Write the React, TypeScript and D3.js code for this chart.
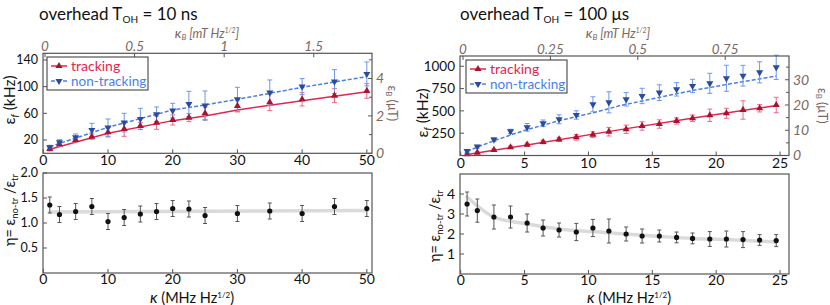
import React from 'react';
import * as d3 from 'd3';

// ---- left column: overhead 10 ns ----
const kappaL = [1, 2.5, 5, 7.5, 10, 12.5, 15, 17.5, 20, 22.5, 25, 30, 35, 40, 45, 50];
const trackL = [6.5, 13.5, 20, 25, 31.5, 36.5, 41, 46, 50, 53.5, 60, 71, 76.5, 81, 86.5, 93.5];
const trackErrL = [3, 3, 3, 4, 7, 11, 5, 10, 7.5, 6, 9.5, 9, 12.5, 10, 10.5, 11];
const nonTrackL = [9, 16.5, 24, 35, 38.5, 46, 51.5, 58.5, 64, 74, 71.5, 81, 91, 100, 107.5, 119];
const nonTrackErrL = [3, 4, 5, 10, 13, 14, 16, 11, 11, 19, 22, 18, 19, 12, 18, 18];
const fitXL = [1, 10, 20, 25, 30, 40, 50];
const trackFitL = [6, 30, 49, 56, 65, 79, 92.5];
const nonTrackFitL = [10, 39, 65, 72.5, 81, 99, 115];
const etaL = [1.36, 1.17, 1.23, 1.33, 1.03, 1.11, 1.18, 1.23, 1.29, 1.28, 1.15, 1.19, 1.24, 1.19, 1.33, 1.29];
const etaErrL = [0.16, 0.16, 0.16, 0.16, 0.16, 0.16, 0.16, 0.16, 0.16, 0.16, 0.16, 0.16, 0.16, 0.16, 0.16, 0.16];
const etaFitXL = [1, 50];
const etaFitL = [1.22, 1.25];

// ---- right column: overhead 100 us ----
const kappaR = [0.5, 1.3, 2.6, 3.9, 5.2, 6.45, 7.7, 9.05, 10.35, 11.6, 12.95, 14.2, 15.55, 16.9, 18.15, 19.5, 20.8, 22.1, 23.4, 24.7];
const trackR = [14, 31, 62, 92, 121, 151, 181, 204, 233, 267, 294, 331, 353, 387, 417, 451, 473, 510, 529, 566];
const trackErrR = [8, 10, 12, 15, 18, 20, 22, 32, 32, 48, 47, 47, 47, 35, 37, 69, 56, 103, 41, 86];
const nonTrackR = [50, 99, 178, 270, 316, 361, 406, 454, 574, 596, 630, 667, 704, 741, 779, 809, 865, 894, 932, 988];
const nonTrackErrR = [15, 15, 20, 24, 43, 37, 50, 47, 84, 118, 75, 86, 88, 75, 75, 112, 146, 116, 118, 136];
const trackFitXR = [0.5, 5.2, 12.5, 18.2, 24.7];
const trackFitR = [12, 117, 290, 420, 560];
const nonTrackFitXR = [0.5, 1.3, 2.6, 3.9, 5.2, 7.7, 10.4, 12.5, 15.5, 18.2, 20.8, 24.7];
const nonTrackFitR = [45, 95, 165, 230, 290, 390, 480, 560, 650, 730, 795, 890];
const etaR = [3.5, 3.17, 2.85, 2.85, 2.55, 2.3, 2.2, 2.1, 2.3, 2.15, 2.0, 1.9, 1.9, 1.83, 1.78, 1.75, 1.75, 1.72, 1.7, 1.67];
const etaErrR = [0.6, 0.58, 0.6, 0.55, 0.45, 0.4, 0.35, 0.43, 0.43, 0.6, 0.35, 0.35, 0.3, 0.27, 0.27, 0.37, 0.4, 0.4, 0.27, 0.3];
const etaFitXR = [0.5, 2.6, 5.2, 7.7, 10.3, 12.9, 15.6, 18.1, 20.8, 24.7];
const etaFitR = [3.85, 2.85, 2.5, 2.25, 2.12, 2.0, 1.88, 1.78, 1.72, 1.6];

// ticks
const xTicksL = [0, 10, 20, 30, 40, 50];
const xTicksR = [0, 5, 10, 15, 20, 25];
const yTicksTopL = [20, 60, 100, 140];
const yTicksTopR = [250, 500, 750, 1000];
const y2LabelsL = [0, 2, 4];
const y2MinorL = [1, 3, 5];
const y2LabelsR = [0, 10, 20, 30];
const y2MinorR = [5, 15, 25, 35];
const kbTicksL = [0, 0.5, 1, 1.5];
const kbTicksR = [0, 0.25, 0.5, 0.75];
const etaTicksL = [0.5, 1.0, 1.5, 2.0];
const etaTicksR = [1, 2, 3, 4];

const FONT = 'Lato, "Open Sans", sans-serif';
const RED = '#e3264b', RED_DARK = '#a8132f', RED_ERR = '#ee6a84';
const BLUE = '#4a7fe6', BLUE_DARK = '#2b4b9c', BLUE_ERR = '#6c97ee';
const BROWN = '#7d6762';
const FRAME = '#555';
const TICK = 14;

const triUp = d3.symbol(d3.symbolTriangle, 22)();

function ErrBars({ xs, ys, es, x, y, color, cap = 2.5, width = 1 }) {
  return (
    <g stroke={color} strokeWidth={width} fill="none">
      {xs.map((k, i) => {
        const cx = x(k), y0 = y(ys[i] - es[i]), y1 = y(ys[i] + es[i]);
        return (
          <g key={i}>
            <line x1={cx} x2={cx} y1={y0} y2={y1} />
            <line x1={cx - cap} x2={cx + cap} y1={y0} y2={y0} />
            <line x1={cx - cap} x2={cx + cap} y1={y1} y2={y1} />
          </g>
        );
      })}
    </g>
  );
}

function Markers({ xs, ys, x, y, color, down }) {
  return (
    <g fill={color}>
      {xs.map((k, i) => (
        <path key={i} d={triUp} transform={`translate(${x(k)},${y(ys[i])})${down ? ' rotate(180)' : ''}`} />
      ))}
    </g>
  );
}

function TopPanel(p) {
  const { x0, x1, y0, y1, xDomain, xRange, xTicks, yDomain, yTicks, yTickSize, y2Domain, y2Labels, y2Minor,
    kbDomain, kbRange, kbTicks, kappa, track, trackErr, nonTrack, nonTrackErr,
    tFitX, tFit, nFitX, nFit, legend, title, titleX, ylabX, ylabY, y2labX, kbLabX } = p;
  const x = d3.scaleLinear().domain(xDomain).range(xRange);
  const y = d3.scaleLinear().domain(yDomain).range([y1, y0]);
  const y2 = d3.scaleLinear().domain(y2Domain).range([y1, y0]);
  const kb = d3.scaleLinear().domain(kbDomain).range(kbRange);
  const line = d3.line();
  const tLine = line(tFitX.map((k, i) => [x(k), y(tFit[i])]));
  const nLine = line(nFitX.map((k, i) => [x(k), y(nFit[i])]));
  return (
    <g fontFamily={FONT}>
      <text x={titleX} y={20} fontSize={17} fill="#111">
        overhead T<tspan fontSize={10} dy={3}>OH</tspan><tspan dy={-3}>{' = ' + title}</tspan>
      </text>
      {/* top axis kappa_B */}
      <text x={kbLabX} y={38} fontSize={12.5} fill={BROWN} fontStyle="italic" textAnchor="middle">
        <tspan fontSize={14}>κ</tspan><tspan fontSize={8} dy={2}>B</tspan><tspan dy={-2}> [mT Hz</tspan>
        <tspan fontSize={7} dy={-5}>1/2</tspan><tspan dy={5}>]</tspan>
      </text>
      {kbTicks.map(t => (
        <g key={t}>
          <text x={kb(t)} y={y0 - 2} fontSize={13.5} fill={BROWN} fontStyle="italic" textAnchor="middle">{t}</text>
          <line x1={kb(t)} x2={kb(t)} y1={y0} y2={y0 + 4} stroke={FRAME} />
        </g>
      ))}
      {/* left axis */}
      {yTicks.map(t => (
        <g key={t}>
          <text x={x0 - 5} y={y(t)} dy="0.35em" fontSize={yTickSize} fill="#111" textAnchor="end">{t}</text>
          <line x1={x0} x2={x0 + 4} y1={y(t)} y2={y(t)} stroke={FRAME} />
        </g>
      ))}
      <text transform={`translate(${ylabX},${ylabY}) rotate(-90)`} fontSize={15.5} textAnchor="middle" fill="#111">
        ε<tspan fontSize={10} dy={3} fontStyle="italic">f</tspan><tspan dy={-3}> (kHz)</tspan>
      </text>
      {/* right axis */}
      {y2Labels.map(t => (
        <g key={t}>
          <text x={x1 + 4} y={y2(t)} dy="0.35em" fontSize={TICK} fill={BROWN} fontStyle="italic">{t}</text>
          <line x1={x1 - 4} x2={x1} y1={y2(t)} y2={y2(t)} stroke={FRAME} />
        </g>
      ))}
      {y2Minor.map(t => (
        <line key={t} x1={x1 - 3} x2={x1} y1={y2(t)} y2={y2(t)} stroke={FRAME} />
      ))}
      <text transform={`translate(${y2labX},${(y0 + y1) / 2}) rotate(90)`} fontSize={12.5} textAnchor="middle" fill={BROWN}>
        ε<tspan fontSize={8} dy={2}>B</tspan><tspan dy={-2}> (μT)</tspan>
      </text>
      {/* bottom ticks */}
      {xTicks.map(t => (
        <g key={t}>
          <text x={x(t)} y={y1 + 12} fontSize={TICK} fill="#111" textAnchor="middle">{t}</text>
          <line x1={x(t)} x2={x(t)} y1={y1} y2={y1 - 4} stroke={FRAME} />
        </g>
      ))}
      {/* data */}
      <path d={tLine} fill="none" stroke={RED} strokeWidth={1.5} />
      <path d={nLine} fill="none" stroke={BLUE} strokeWidth={1.5} strokeDasharray="4,2" />
      <ErrBars xs={kappa} ys={track} es={trackErr} x={x} y={y} color={RED_ERR} />
      <ErrBars xs={kappa} ys={nonTrack} es={nonTrackErr} x={x} y={y} color={BLUE_ERR} />
      <Markers xs={kappa} ys={track} x={x} y={y} color={RED_DARK} />
      <Markers xs={kappa} ys={nonTrack} x={x} y={y} color={BLUE_DARK} down />
      <rect x={x0} y={y0} width={x1 - x0} height={y1 - y0} fill="none" stroke={FRAME} strokeWidth={1.2} />
      {/* legend */}
      <g>
        <rect x={legend[0]} y={legend[1]} width={101} height={33} fill="#fff" stroke="#333" strokeWidth={1} />
        <line x1={legend[0] + 4} x2={legend[0] + 20} y1={legend[1] + 9} y2={legend[1] + 9} stroke={RED} strokeWidth={1.5} />
        <path d={triUp} transform={`translate(${legend[0] + 12},${legend[1] + 9})`} fill={RED_DARK} />
        <text x={legend[0] + 24} y={legend[1] + 9} dy="0.35em" fontSize={14} fill={RED}>tracking</text>
        <line x1={legend[0] + 4} x2={legend[0] + 20} y1={legend[1] + 24} y2={legend[1] + 24} stroke={BLUE} strokeWidth={1.5} strokeDasharray="4,2" />
        <path d={triUp} transform={`translate(${legend[0] + 12},${legend[1] + 24}) rotate(180)`} fill={BLUE_DARK} />
        <text x={legend[0] + 24} y={legend[1] + 24} dy="0.35em" fontSize={13.5} fill={BLUE}>non-tracking</text>
      </g>
    </g>
  );
}

function BottomPanel(p) {
  const { x0, x1, y0, y1, xDomain, xRange, xTicks, yDomain, yTicks, yTickSize, yFmt, kappa, eta, etaErr, fitX, fit, ylabX, ylabY, xlabX } = p;
  const x = d3.scaleLinear().domain(xDomain).range(xRange);
  const y = d3.scaleLinear().domain(yDomain).range([y1, y0]);
  const fitPath = d3.line().curve(d3.curveMonotoneX)(fitX.map((k, i) => [x(k), y(fit[i])]));
  return (
    <g fontFamily={FONT}>
      <path d={fitPath} fill="none" stroke="#dadada" strokeWidth={3.5} strokeLinecap="round" />
      <ErrBars xs={kappa} ys={eta} es={etaErr} x={x} y={y} color="#555" cap={2} />
      <g fill="#111">
        {kappa.map((k, i) => <circle key={i} cx={x(k)} cy={y(eta[i])} r={2.6} />)}
      </g>
      {yTicks.map(t => (
        <g key={t}>
          <text x={x0 - 5} y={y(t)} dy="0.35em" fontSize={yTickSize} fill="#111" textAnchor="end">{yFmt(t)}</text>
          <line x1={x0} x2={x0 + 4} y1={y(t)} y2={y(t)} stroke={FRAME} />
        </g>
      ))}
      {xTicks.map(t => (
        <g key={t}>
          <text x={x(t)} y={y1 + 10.5} fontSize={TICK} fill="#111" textAnchor="middle">{t}</text>
          <line x1={x(t)} x2={x(t)} y1={y1} y2={y1 - 4} stroke={FRAME} />
        </g>
      ))}
      <rect x={x0} y={y0} width={x1 - x0} height={y1 - y0} fill="none" stroke={FRAME} strokeWidth={1.2} />
      <text transform={`translate(${ylabX},${ylabY}) rotate(-90)`} fontSize={14.5} textAnchor="middle" fill="#111">
        η= ε<tspan fontSize={9.5} dy={3}>no-tr</tspan><tspan dy={-3}> /ε</tspan><tspan fontSize={9.5} dy={3}>tr</tspan>
      </text>
      <text x={xlabX} y={303} fontSize={14.5} textAnchor="middle" fill="#111">
        <tspan fontStyle="italic" fontSize={16}>κ</tspan> (MHz Hz<tspan fontSize={8} dy={-5}>1/2</tspan><tspan dy={5}>)</tspan>
      </text>
    </g>
  );
}

export default function App() {
  return (
    <svg width={830} height={305} style={{ position: 'absolute', left: 0, top: 0, background: '#fff' }}>
      <TopPanel x0={43} x1={372} y0={53.3} y1={153.3} xDomain={[0, 50.8]} xRange={[43.3, 372]} xTicks={xTicksL}
        yDomain={[0, 150]} yTicks={yTicksTopL} yTickSize={12.5} y2Domain={[0, 5.35]} y2Labels={y2LabelsL} y2Minor={y2MinorL}
        kbDomain={[0, 1.825]} kbRange={[45, 372]} kbTicks={kbTicksL} kbLabX={207}
        kappa={kappaL} track={trackL} trackErr={trackErrL} nonTrack={nonTrackL} nonTrackErr={nonTrackErrL}
        tFitX={fitXL} tFit={trackFitL} nFitX={fitXL} nFit={nonTrackFitL}
        legend={[47, 57]} title="10 ns" titleX={39} ylabX={15} ylabY={100} y2labX={388} />
      <BottomPanel x0={43} x1={372} y0={173} y1={273} xDomain={[0, 50.8]} xRange={[43.3, 372]} xTicks={xTicksL}
        yDomain={[0, 2]} yTicks={etaTicksL} yTickSize={12.5} yFmt={d3.format('.1f')} kappa={kappaL} eta={etaL} etaErr={etaErrL}
        fitX={etaFitXL} fit={etaFitL} ylabX={15} ylabY={210} xlabX={192} />
      <TopPanel x0={460} x1={789} y0={56} y1={155.5} xDomain={[0, 25.7]} xRange={[460.7, 789]} xTicks={xTicksR}
        yDomain={[0, 1115]} yTicks={yTicksTopR} yTickSize={13.5} y2Domain={[0, 39.4]} y2Labels={y2LabelsR} y2Minor={y2MinorR}
        kbDomain={[0, 0.9325]} kbRange={[463, 789]} kbTicks={kbTicksR} kbLabX={618}
        kappa={kappaR} track={trackR} trackErr={trackErrR} nonTrack={nonTrackR} nonTrackErr={nonTrackErrR}
        tFitX={trackFitXR} tFit={trackFitR} nFitX={nonTrackFitXR} nFit={nonTrackFitR}
        legend={[466, 60]} title="100 μs" titleX={460} ylabX={428} ylabY={113} y2labX={818} />
      <BottomPanel x0={460} x1={789} y0={174} y1={274} xDomain={[0, 25.7]} xRange={[460.7, 789]} xTicks={xTicksR}
        yDomain={[0, 5]} yTicks={etaTicksR} yTickSize={14} yFmt={d3.format('')} kappa={kappaR} eta={etaR} etaErr={etaErrR}
        fitX={etaFitXR} fit={etaFitR} ylabX={440} ylabY={226} xlabX={629} />
    </svg>
  );
}
